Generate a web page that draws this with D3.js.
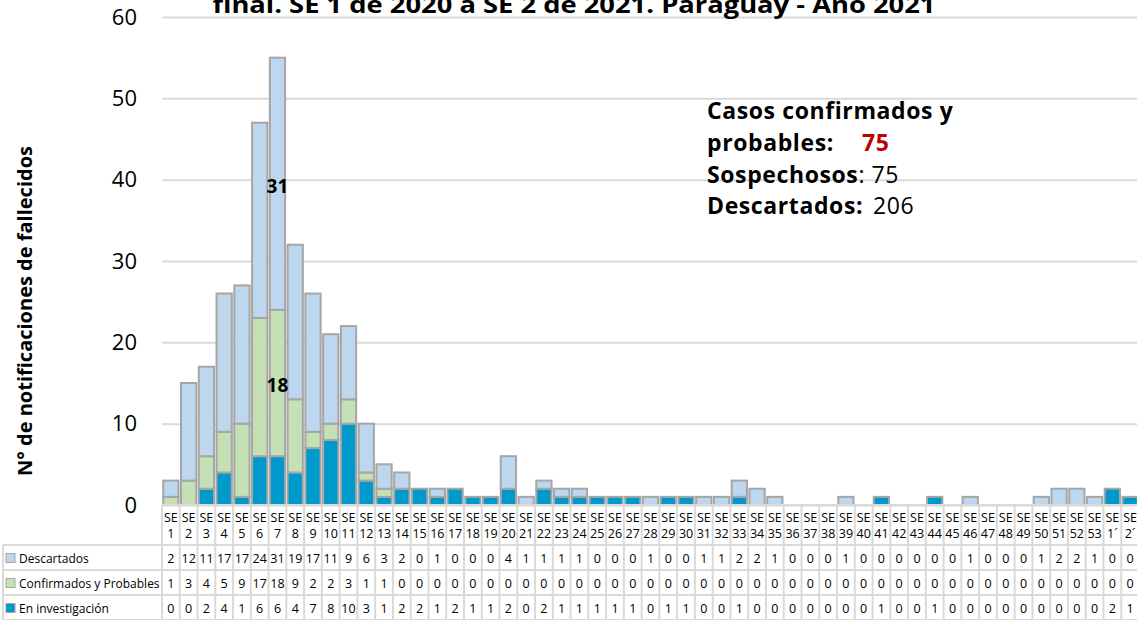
<!DOCTYPE html>
<html><head><meta charset="utf-8">
<script src="https://cdn.jsdelivr.net/npm/d3@7"></script>
<style>
body{margin:0;background:#fff;}
svg{display:block;font-family:"Open Sans","Noto Sans",sans-serif;}
</style></head>
<body><svg id="c" width="1137" height="620"></svg>
<script>
const weekLabels = ["1","2","3","4","5","6","7","8","9","10","11","12","13","14","15","16","17","18","19","20","21","22","23","24","25","26","27","28","29","30","31","32","33","34","35","36","37","38","39","40","41","42","43","44","45","46","47","48","49","50","51","52","53","1´","2´"];
const descartados = [2,12,11,17,17,24,31,19,17,11,9,6,3,2,0,1,0,0,0,4,1,1,1,1,0,0,0,1,0,0,1,1,2,2,1,0,0,0,1,0,0,0,0,0,0,1,0,0,0,1,2,2,1,0,0];
const confirmados = [1,3,4,5,9,17,18,9,2,2,3,1,1,0,0,0,0,0,0,0,0,0,0,0,0,0,0,0,0,0,0,0,0,0,0,0,0,0,0,0,0,0,0,0,0,0,0,0,0,0,0,0,0,0,0];
const investigacion = [0,0,2,4,1,6,6,4,7,8,10,3,1,2,2,1,2,1,1,2,0,2,1,1,1,1,1,0,1,1,0,0,1,0,0,0,0,0,0,0,1,0,0,1,0,0,0,0,0,0,0,0,0,2,1];
const seriesNames = ["En investigación","Confirmados y Probables","Descartados"];
const seriesColors = ["#0099CC","#C5E0B4","#BDD7EE"];
const yTicks = [0,10,20,30,40,50,60];
const titleText = "final. SE 1 de 2020 a SE 2 de 2021. Paraguay - Año 2021";
const yTitle = "N° de notificaciones de fallecidos";
const totalConf = 75, totalSosp = 75, totalDesc = 206;

const svg = d3.select("#c");
const X0 = 162, X1 = 1139, YT = 17, YB = 505;
const x = d3.scaleBand().domain(weekLabels).range([X0, X1]).paddingInner(0.14).paddingOuter(0.07);
const y = d3.scaleLinear().domain([0,60]).range([YB, YT]);
const gridC = "#D9D9D9";

// gridlines + y axis
const ax = svg.append("g").attr("transform",`translate(${X0},0)`)
  .call(d3.axisLeft(y).tickValues(yTicks).tickSize(-(X1-X0)).tickPadding(25).tickFormat(d3.format("d")));
ax.select(".domain").remove();
ax.selectAll(".tick line").attr("stroke",gridC).attr("stroke-width",2);
ax.selectAll(".tick text").attr("font-size",22).attr("fill","#000").attr("font-family","'Open Sans',sans-serif");

// title (cut at top, as in the reference)
svg.append("text").attr("x",574).attr("y",13).attr("text-anchor","middle")
  .attr("font-size",24).attr("font-weight","bold").attr("fill","#000")
  .attr("textLength",723).attr("lengthAdjust","spacingAndGlyphs").text(titleText);

// y title
svg.append("text").attr("transform","translate(32,311) rotate(-90)").attr("text-anchor","middle")
  .attr("font-size",20).attr("font-weight","bold").attr("fill","#000").text(yTitle);

// stacked bars
const rows = weekLabels.map((w,i)=>({w, inv:investigacion[i], conf:confirmados[i], desc:descartados[i]}));
const keys = ["inv","conf","desc"];
const stacked = d3.stack().keys(keys)(rows);
svg.append("g").selectAll("g").data(stacked).join("g")
  .attr("fill",(d,i)=>seriesColors[i])
  .selectAll("rect").data(d=>d.filter(s=>s[1]-s[0]>0)).join("rect")
  .attr("x",d=>x(d.data.w)).attr("width",x.bandwidth())
  .attr("y",d=>y(d[1])).attr("height",d=>y(d[0])-y(d[1]))
  .attr("stroke","#A6A6A6").attr("stroke-width",2);

// data labels on SE 7
const li = weekLabels.indexOf("7");
[[1,confirmados[li]],[2,descartados[li]]].forEach(([k,v])=>{
  const s = stacked[k][li];
  svg.append("text").attr("x",x("7")+x.bandwidth()/2).attr("y",y((s[0]+s[1])/2)+9)
    .attr("text-anchor","middle").attr("font-size",19).attr("font-weight","bold").text(v);
});

// annotation
const ann = svg.append("g").attr("font-size",23).attr("fill","#000").attr("letter-spacing",0.6);
ann.append("text").attr("x",707).attr("y",119).attr("font-weight","bold").text("Casos confirmados y");
const t2 = ann.append("text").attr("x",707).attr("y",151);
t2.append("tspan").attr("font-weight","bold").text("probables:");
t2.append("tspan").attr("x",862).attr("font-weight","bold").attr("fill","#C00000").text(totalConf);
const t3 = ann.append("text").attr("x",707).attr("y",183);
t3.append("tspan").attr("font-weight","bold").text("Sospechosos");
t3.append("tspan").text(": "+totalSosp);
const t4 = ann.append("text").attr("x",707).attr("y",214);
t4.append("tspan").attr("font-weight","bold").text("Descartados:");
t4.append("tspan").attr("dx",10).text(totalDesc);

// data table
const off = (x.step()-x.bandwidth())/2;
const tb = svg.append("g");
const rowY = [505,545,570,595,620];
const LX = 3;
tb.append("line").attr("x1",X0).attr("x2",X1).attr("y1",rowY[0]).attr("y2",rowY[0]).attr("stroke",gridC).attr("stroke-width",2);
rowY.slice(1).forEach(yy=>tb.append("line").attr("x1",LX).attr("x2",X1).attr("y1",yy).attr("y2",yy).attr("stroke",gridC).attr("stroke-width",2));
tb.append("line").attr("x1",LX).attr("x2",LX).attr("y1",545).attr("y2",620).attr("stroke",gridC).attr("stroke-width",2);
weekLabels.forEach(w=>{
  const cx = x(w)-off;
  tb.append("line").attr("x1",cx).attr("x2",cx).attr("y1",505).attr("y2",620).attr("stroke",gridC).attr("stroke-width",2);
});
const fs = 12.5;
weekLabels.forEach(w=>{
  const cx = x(w)+x.bandwidth()/2;
  tb.append("text").attr("x",cx).attr("y",521.5).attr("text-anchor","middle").attr("font-size",fs).text("SE");
  tb.append("text").attr("x",cx).attr("y",538).attr("text-anchor","middle").attr("font-size",fs).text(w);
});
const tableSeries = [descartados, confirmados, investigacion];
const tableNames = [seriesNames[2], seriesNames[1], seriesNames[0]];
const tableColors = [seriesColors[2], seriesColors[1], seriesColors[0]];
tableSeries.forEach((arr,r)=>{
  const yc = (rowY[r+1]+rowY[r+2])/2 + 1;
  tb.append("rect").attr("x",6).attr("y",yc-5).attr("width",9).attr("height",9)
    .attr("fill",tableColors[r]).attr("stroke","#A6A6A6").attr("stroke-width",1);
  tb.append("text").attr("x",19).attr("y",yc+4.5).attr("font-size",12).text(tableNames[r]);
  arr.forEach((v,i)=>{
    tb.append("text").attr("x",x(weekLabels[i])+x.bandwidth()/2).attr("y",yc+4.5)
      .attr("text-anchor","middle").attr("font-size",fs).text(v);
  });
});
</script></body></html>
